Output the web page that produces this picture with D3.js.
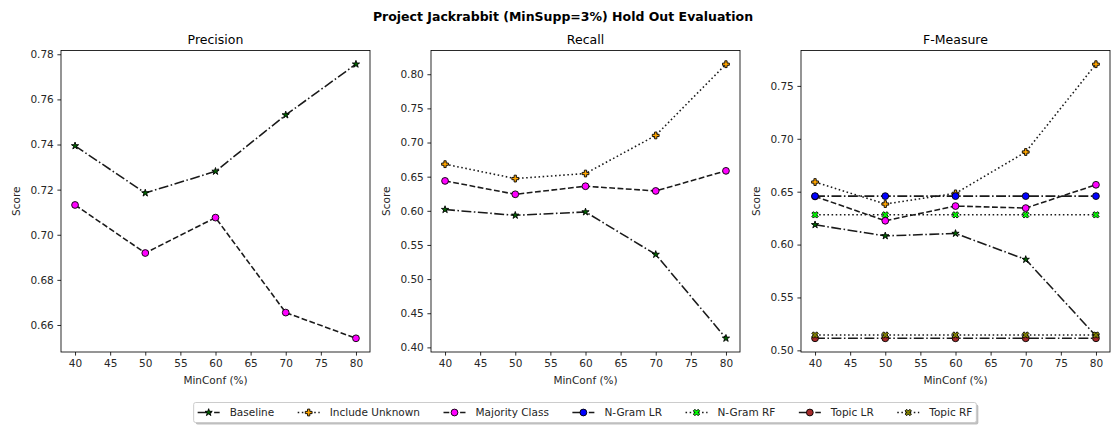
<!DOCTYPE html>
<html>
<head>
<meta charset="utf-8">
<script src="https://cdn.jsdelivr.net/npm/d3@7"></script>
<style>
  body { margin: 0; background: #fff; }
  svg { display: block; font-family: "DejaVu Sans", sans-serif; }
</style>
</head>
<body>
<svg id="chart" width="1115" height="425"></svg>
<script>
// ---- data ----
const minConf = [40, 50, 60, 70, 80];
const xTicks = [40, 45, 50, 55, 60, 65, 70, 75, 80];

const seriesNames = ["Baseline", "Include Unknown", "Majority Class", "N-Gram LR", "N-Gram RF", "Topic LR", "Topic RF"];

const precisionBaseline = [0.7394, 0.7185, 0.7281, 0.7531, 0.7756];
const precisionMajority = [0.7132, 0.6919, 0.7076, 0.6655, 0.6541];

const recallBaseline = [0.6018, 0.5934, 0.5983, 0.5361, 0.4133];
const recallIncludeUnknown = [0.6683, 0.6472, 0.6546, 0.7104, 0.8147];
const recallMajority = [0.6438, 0.6242, 0.6360, 0.6291, 0.6585];

const fBaseline = [0.6187, 0.6082, 0.6105, 0.5859, 0.5136];
const fIncludeUnknown = [0.6591, 0.6383, 0.6484, 0.6875, 0.7705];
const fMajority = [0.6455, 0.6225, 0.6364, 0.6345, 0.6565];
const fNgramLR = [0.6458, 0.6458, 0.6458, 0.6458, 0.6458];
const fNgramRF = [0.6281, 0.6281, 0.6281, 0.6281, 0.6281];
const fTopicLR = [0.5114, 0.5114, 0.5114, 0.5114, 0.5114];
const fTopicRF = [0.5145, 0.5145, 0.5145, 0.5145, 0.5145];

const precisionTicks = [0.66, 0.68, 0.70, 0.72, 0.74, 0.76, 0.78];
const recallTicks = [0.40, 0.45, 0.50, 0.55, 0.60, 0.65, 0.70, 0.75, 0.80];
const fTicks = [0.50, 0.55, 0.60, 0.65, 0.70, 0.75];

const titleText = "Project Jackrabbit (MinSupp=3%) Hold Out Evaluation";
const xLabel = "MinConf (%)";
const yLabel = "Score";

// ---- styling per series ----
const lw = 1.56;
const dashes = {
  dashdot: [9.9, 2.5, 1.56, 2.5].join(","),
  dashed: [5.8, 2.5].join(","),
  dotted: [1.56, 2.57].join(",")
};
const style = {
  "Baseline":        { marker: "star",   fill: "#006400", dash: dashes.dashdot },
  "Include Unknown": { marker: "plus",   fill: "#ffa500", dash: dashes.dotted },
  "Majority Class":  { marker: "circle", fill: "#ff00ff", dash: dashes.dashed },
  "N-Gram LR":       { marker: "circle", fill: "#0000ff", dash: dashes.dashdot },
  "N-Gram RF":       { marker: "x",      fill: "#00ff00", dash: dashes.dotted },
  "Topic LR":        { marker: "circle", fill: "#a52a2a", dash: dashes.dashdot },
  "Topic RF":        { marker: "x",      fill: "#808000", dash: dashes.dotted }
};
const lineColor = "#1a1a1a";
const textColor = "#262626";

// marker outlines, s = half size in px
function markerPath(type, s) {
  if (type === "circle") {
    return `M${s},0A${s},${s} 0 1,1 ${-s},0A${s},${s} 0 1,1 ${s},0Z`;
  }
  if (type === "star") {
    const R = s * 1.12, r = R * 0.381966;
    const pts = d3.range(10).map(i => {
      const a = -Math.PI / 2 + i * Math.PI / 5;
      const rr = i % 2 === 0 ? R : r;
      return [rr * Math.cos(a), rr * Math.sin(a)];
    });
    return "M" + pts.map(p => p.join(",")).join("L") + "Z";
  }
  const base = [[-1,-3],[-1,-1],[-3,-1],[-3,1],[-1,1],[-1,3],[1,3],[1,1],[3,1],[3,-1],[1,-1],[1,-3]];
  const k = s / 3;
  let pts = base.map(([x, y]) => [x * k, y * k]);
  if (type === "x") {
    const c = Math.SQRT1_2;
    pts = pts.map(([x, y]) => [(x - y) * c, (x + y) * c]);
  }
  return "M" + pts.map(p => p.join(",")).join("L") + "Z";
}
const markerSize = 3.4;

const panels = [
  { title: "Precision", ticks: precisionTicks, left: 61,
    series: [["Baseline", precisionBaseline], ["Majority Class", precisionMajority]] },
  { title: "Recall", ticks: recallTicks, left: 431,
    series: [["Baseline", recallBaseline], ["Include Unknown", recallIncludeUnknown], ["Majority Class", recallMajority]] },
  { title: "F-Measure", ticks: fTicks, left: 801,
    series: [["Baseline", fBaseline], ["Include Unknown", fIncludeUnknown], ["Majority Class", fMajority],
             ["N-Gram LR", fNgramLR], ["N-Gram RF", fNgramRF], ["Topic LR", fTopicLR], ["Topic RF", fTopicRF]] }
];

const svg = d3.select("#chart");
svg.append("rect").attr("width", 1115).attr("height", 425).attr("fill", "#fff");

const plotTop = 50.5, plotBottom = 352, pw = 309;
const fontTick = 10.5, fontTitle = 12.5;

svg.append("text")
  .attr("x", 563).attr("y", 17).attr("dy", "0.35em")
  .attr("text-anchor", "middle").attr("font-weight", "bold")
  .attr("font-size", fontTitle).attr("fill", "#000")
  .text(titleText);

panels.forEach(p => {
  const all = p.series.flatMap(s => s[1]);
  const lo = d3.min(all), hi = d3.max(all), pad = (hi - lo) * 0.05;
  const x = d3.scaleLinear().domain([38, 82]).range([p.left, p.left + pw]);
  const y = d3.scaleLinear().domain([lo - pad, hi + pad]).range([plotBottom, plotTop]);
  const g = svg.append("g");

  // axes
  const xa = g.append("g").attr("transform", `translate(0,${plotBottom})`)
    .call(d3.axisBottom(x).tickValues(xTicks).tickFormat(d3.format("d")).tickSize(3.6).tickPadding(3.6));
  const ya = g.append("g").attr("transform", `translate(${p.left},0)`)
    .call(d3.axisLeft(y).tickValues(p.ticks).tickFormat(d3.format(".2f")).tickSize(3.6).tickPadding(3.6));
  [xa, ya].forEach(a => {
    a.select(".domain").remove();
    a.selectAll(".tick line").attr("stroke", "#000").attr("stroke-width", 0.83);
    a.selectAll(".tick text").attr("font-size", fontTick).attr("fill", textColor)
      .attr("font-family", "DejaVu Sans, sans-serif");
  });

  // series: line then markers, in legend order
  const line = d3.line().x((d, i) => x(minConf[i])).y(d => y(d));
  const plot = g.append("g");
  p.series.forEach(([name, vals]) => {
    const st = style[name];
    plot.append("path").datum(vals)
      .attr("d", line).attr("fill", "none")
      .attr("stroke", lineColor).attr("stroke-width", lw)
      .attr("stroke-dasharray", st.dash);
    plot.selectAll(null).data(vals).enter().append("path")
      .attr("transform", (d, i) => `translate(${x(minConf[i])},${y(d)})`)
      .attr("d", markerPath(st.marker, markerSize))
      .attr("fill", st.fill).attr("stroke", "#000").attr("stroke-width", 0.9);
  });

  // frame
  g.append("rect").attr("x", p.left).attr("y", plotTop).attr("width", pw).attr("height", plotBottom - plotTop)
    .attr("fill", "none").attr("stroke", "#000").attr("stroke-width", 0.83);

  g.append("text").attr("x", p.left + pw / 2).attr("y", 39.3).attr("dy", "0.35em")
    .attr("text-anchor", "middle").attr("font-size", fontTitle).attr("fill", "#000").text(p.title);
  g.append("text").attr("x", p.left + pw / 2).attr("y", 380.7).attr("dy", "0.35em")
    .attr("text-anchor", "middle").attr("font-size", fontTick).attr("fill", textColor).text(xLabel);
  g.append("text").attr("transform", `translate(${p.left - 44.3},${(plotTop + plotBottom) / 2}) rotate(-90)`)
    .attr("dy", "0.35em").attr("text-anchor", "middle").attr("font-size", fontTick)
    .attr("fill", textColor).text(yLabel);
});

// ---- legend ----
const legend = svg.append("g");
const handleLen = 22, textOff = 32, colGap = 23.5, borderPad = 4;
const rowY = 412.5;
const items = legend.append("g");
let cx = 0;
seriesNames.forEach(name => {
  const st = style[name];
  const it = items.append("g").attr("transform", `translate(${cx},0)`);
  it.append("line").attr("x1", 0).attr("x2", handleLen).attr("y1", rowY).attr("y2", rowY)
    .attr("stroke", lineColor).attr("stroke-width", lw).attr("stroke-dasharray", st.dash);
  it.append("path").attr("transform", `translate(${handleLen / 2},${rowY})`)
    .attr("d", markerPath(st.marker, markerSize))
    .attr("fill", st.fill).attr("stroke", "#000").attr("stroke-width", 0.9);
  const t = it.append("text").attr("x", textOff).attr("y", rowY).attr("dy", "0.35em")
    .attr("font-size", fontTick).attr("fill", textColor).text(name);
  cx += textOff + t.node().getComputedTextLength() + colGap;
});
const innerW = cx - colGap;
const boxW = innerW + borderPad * 2;
const boxX = 585 - boxW / 2;
items.attr("transform", `translate(${boxX + borderPad},0)`);
legend.insert("rect", ":first-child")
  .attr("x", boxX).attr("y", 402.5).attr("width", boxW).attr("height", 20).attr("rx", 2)
  .attr("fill", "#fff").attr("stroke", "#cccccc").attr("stroke-width", 1);
legend.insert("rect", ":first-child")
  .attr("x", boxX + 2).attr("y", 404.5).attr("width", boxW).attr("height", 20).attr("rx", 2)
  .attr("fill", "#808080").attr("opacity", 0.5);
</script>
</body>
</html>
